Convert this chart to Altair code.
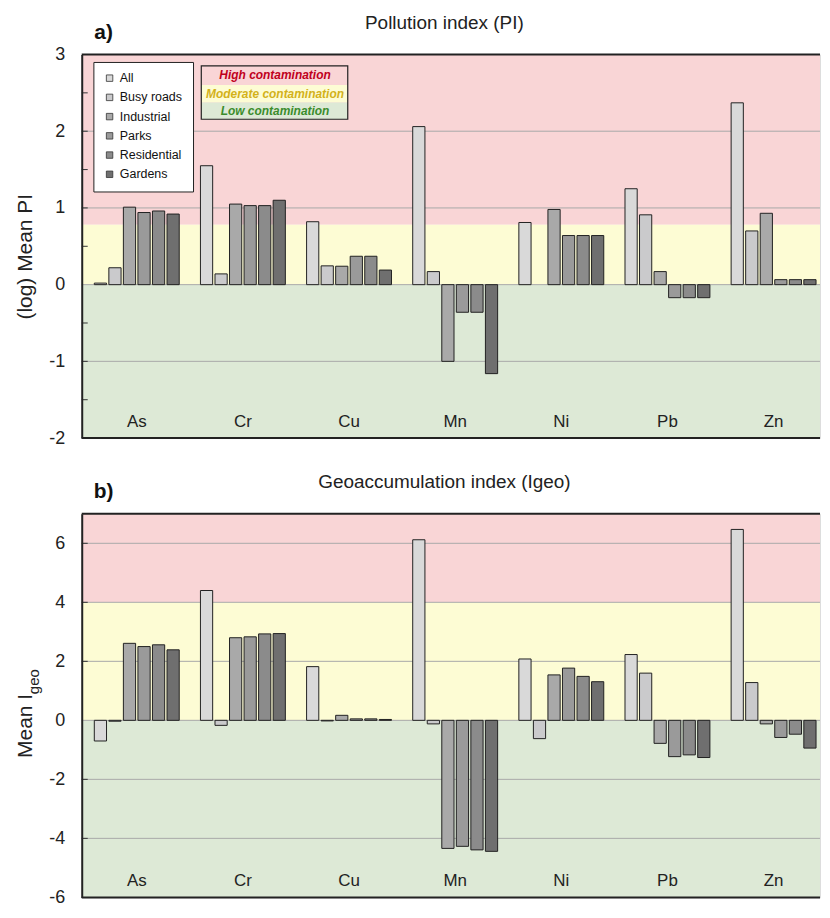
import altair as alt
import pandas as pd

elements = ["As", "Cr", "Cu", "Mn", "Ni", "Pb", "Zn"]
groups = ["All", "Busy roads", "Industrial", "Parks", "Residential", "Gardens"]
group_colors = ["#d9d9d9", "#cacacc", "#a9a9a9", "#9a9a9a", "#8b8b8b", "#6f6f6f"]

# Pollution index (log mean PI), per land-use group, in element order
pi_all = [0.02, 1.55, 0.82, 2.06, 0.81, 1.25, 2.37]
pi_busy = [0.22, 0.14, 0.245, 0.17, None, 0.91, 0.70]
pi_industrial = [1.01, 1.05, 0.24, -1.00, 0.98, 0.17, 0.93]
pi_parks = [0.94, 1.03, 0.37, -0.36, 0.64, -0.17, 0.065]
pi_residential = [0.96, 1.03, 0.37, -0.36, 0.64, -0.17, 0.065]
pi_gardens = [0.92, 1.10, 0.19, -1.16, 0.64, -0.17, 0.065]

# Geoaccumulation index (mean Igeo)
igeo_all = [-0.70, 4.40, 1.82, 6.12, 2.08, 2.23, 6.47]
igeo_busy = [-0.03, -0.17, -0.02, -0.12, -0.62, 1.60, 1.28]
igeo_industrial = [2.61, 2.80, 0.17, -4.34, 1.54, -0.78, -0.12]
igeo_parks = [2.50, 2.83, 0.05, -4.27, 1.77, -1.23, -0.58]
igeo_residential = [2.56, 2.93, 0.05, -4.39, 1.49, -1.17, -0.47]
igeo_gardens = [2.39, 2.94, 0.03, -4.44, 1.31, -1.26, -0.94]

# Contamination class limits
pi_band_lo = [0.78, 0.0, -2.0]
pi_band_hi = [3.0, 0.78, 0.0]
igeo_band_lo = [4.0, 0.0, -6.0]
igeo_band_hi = [7.0, 4.0, 0.0]
band_colors = ["#f9d5d6", "#fdfcd4", "#dde9d6"]
class_labels = ["High contamination", "Moderate contamination", "Low contamination"]
class_text_colors = ["#c0001c", "#d3b21a", "#3b8c2c"]

FONT = "Liberation Sans"
W, H = 741, 385


def build_panel(series, domain, band_lo, band_hi, grid_vals, tick_vals, label_vals,
                title_text, tag, show_legend, ytitle_layers, extra_layers=()):
    rows = []
    for g, vals in zip(groups, series):
        for e, v in zip(elements, vals):
            if v is not None:
                rows.append({"element": e, "group": g, "value": v})
    df = pd.DataFrame(rows)

    xscale = alt.Scale(domain=elements, paddingInner=0.2, paddingOuter=0.078, align=0.76)
    yscale = alt.Scale(domain=domain, nice=False, zero=False)
    yaxis = alt.Axis(values=label_vals, title=None, ticks=False, labelPadding=17,
                     labelFontSize=18, labelColor="#222", labelFont=FONT,
                     labelExpr="datum.value < 0 ? '-' + abs(datum.value) : '' + datum.value",
                     domain=True, domainColor="#222", domainWidth=2, grid=False,
                     minExtent=73, maxExtent=73, zindex=1)

    bands = alt.Chart(pd.DataFrame({"lo": band_lo, "hi": band_hi, "c": band_colors})).mark_rect().encode(
        y=alt.Y("lo:Q", scale=yscale, axis=yaxis),
        y2="hi:Q",
        fill=alt.Fill("c:N", scale=None),
    )
    grid = alt.Chart(pd.DataFrame({"v": grid_vals})).mark_rule(color="#a9a9a9", strokeWidth=1).encode(
        y=alt.Y("v:Q", scale=yscale, axis=yaxis)
    )
    ticks = alt.Chart(pd.DataFrame({"v": tick_vals})).mark_rule(color="#333", strokeWidth=1).encode(
        y=alt.Y("v:Q", scale=yscale, axis=yaxis), x=alt.value(0), x2=alt.value(6)
    )
    border = alt.Chart(pd.DataFrame({"v": [domain[0], domain[1]]})).mark_rule(color="#222", strokeWidth=2).encode(
        y=alt.Y("v:Q", scale=yscale, axis=yaxis)
    )
    if show_legend:
        legend = alt.Legend(title=None, orient="none", legendX=11.7, legendY=7.5,
                            fillColor="white", strokeColor="#222", padding=10,
                            symbolType="square", symbolSize=42, symbolStrokeColor="#333",
                            symbolStrokeWidth=0.8, labelFont=FONT, labelFontSize=12.5,
                            labelColor="#111", rowPadding=6.3, labelOffset=4)
    else:
        legend = None
    bars = alt.Chart(df).mark_bar(stroke="#222", strokeWidth=1).encode(
        x=alt.X("element:N", scale=xscale, axis=None, sort=elements),
        xOffset=alt.XOffset("group:N", scale=alt.Scale(domain=groups, paddingInner=0.16), sort=groups),
        y=alt.Y("value:Q", scale=yscale, axis=yaxis),
        color=alt.Color("group:N", scale=alt.Scale(domain=groups, range=group_colors), legend=legend),
    )
    elabels = alt.Chart(pd.DataFrame({"element": elements})).mark_text(
        font=FONT, fontSize=17, color="#222", baseline="middle").encode(
        x=alt.X("element:N", scale=xscale, axis=None, sort=elements),
        y=alt.value(H - 16),
        text="element:N",
    )
    title = alt.Chart(pd.DataFrame({"t": [title_text]})).mark_text(
        font=FONT, fontSize=19, color="#222", baseline="middle").encode(
        x=alt.value(364), y=alt.value(-32), text="t:N")
    tagm = alt.Chart(pd.DataFrame({"t": [tag]})).mark_text(
        font=FONT, fontSize=21, fontWeight="bold", color="#111", baseline="middle").encode(
        x=alt.value(22), y=alt.value(-22), text="t:N")

    layers = [bands, grid, ticks, bars, elabels, border, title, tagm] + list(ytitle_layers) + list(extra_layers)
    return alt.layer(*layers).properties(width=W, height=H)


def ytext(txt, x, y, size, align):
    return alt.Chart(pd.DataFrame({"t": [txt]})).mark_text(
        font=FONT, fontSize=size, color="#222", angle=270, align=align, baseline="middle").encode(
        x=alt.value(x), y=alt.value(y), text="t:N")


# contamination-class key (panel a)
key_layers = []
key_rows = [(11.5, 30.5), (30.5, 48.3), (48.3, 65)]
key_text_y = [21, 39.5, 56.8]
for (y0, y1), c in zip(key_rows, band_colors):
    key_layers.append(alt.Chart(pd.DataFrame({"k": [0]})).mark_rect(color=c).encode(
        x=alt.value(120), x2=alt.value(267), y=alt.value(y0), y2=alt.value(y1)))
key_layers.append(alt.Chart(pd.DataFrame({"k": [0]})).mark_rect(
    fill=None, stroke="#222", strokeWidth=1.2, filled=False).encode(
    x=alt.value(120), x2=alt.value(267), y=alt.value(11.5), y2=alt.value(65)))
for lab, col, ty in zip(class_labels, class_text_colors, key_text_y):
    key_layers.append(alt.Chart(pd.DataFrame({"t": [lab]})).mark_text(
        font=FONT, fontSize=12, fontWeight="bold", fontStyle="italic", color=col,
        baseline="middle").encode(x=alt.value(194), y=alt.value(ty), text="t:N"))

panel_a = build_panel(
    [pi_all, pi_busy, pi_industrial, pi_parks, pi_residential, pi_gardens],
    [-2, 3], pi_band_lo, pi_band_hi,
    [-1, 0, 1, 2], [-1.5, -1, -0.5, 0.5, 1, 1.5, 2, 2.5], [-2, -1, 0, 1, 2, 3],
    "Pollution index (PI)", "a)", True,
    [ytext("(log) Mean PI", -56, 203, 21, "center")],
    key_layers,
)

panel_b = build_panel(
    [igeo_all, igeo_busy, igeo_industrial, igeo_parks, igeo_residential, igeo_gardens],
    [-6, 7], igeo_band_lo, igeo_band_hi,
    [-4, -2, 0, 2, 4, 6], [-4, -2, 2, 4, 6], [-6, -4, -2, 0, 2, 4, 6],
    "Geoaccumulation index (Igeo)", "b)", False,
    [ytext("Mean I", -56, 245, 21, "left"), ytext("geo", -48, 181, 15, "left")],
)

chart = alt.vconcat(panel_a, panel_b, spacing=24).resolve_scale(
    y="independent", color="independent", fill="independent"
).properties(
    padding={"left": 0, "top": 3, "right": 0, "bottom": 0}
).configure_view(stroke=None).configure(font=FONT)

chart.save("out.html", embed_options={"renderer": "svg", "actions": False})
